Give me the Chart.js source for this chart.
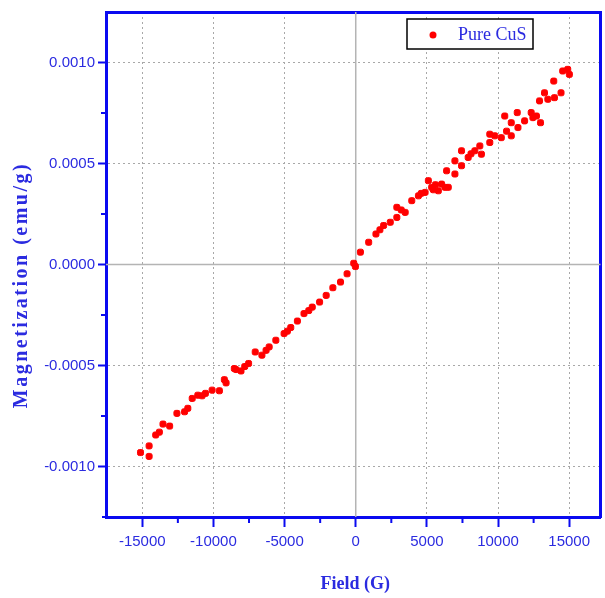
<!DOCTYPE html>
<html>
<head>
<meta charset="utf-8">
<script src="https://cdn.jsdelivr.net/npm/chart.js@4.4.1/dist/chart.umd.min.js"></script>
<style>
  html, body { margin: 0; padding: 0; background: #fff; }
  #wrap { width: 605px; height: 598px; position: relative; }
</style>
</head>
<body>
<div id="wrap"><canvas id="myChart" width="605" height="598"></canvas></div>
<script>
// field (G) and magnetization (emu/g)
var fieldG = [
  -15125, -14520, -14520, -14056, -13545, -13077, -12566, -12028, -11490, -11098,
  -10560, -10093, -9580, -9231, -9112, -8531, -8412, -8063, -7530, -7063,
  -6594, -6084, -5615, -5035, -4567, -4100, -3636, -3056, -2540, -2077,
  -1608, -1070, -608, -140, -21, 329, 909, 1420, 1958, 2427,
  2888, 2888, 3475, 3937, 4406, 4874, 5105, 5336, 5455, 5804,
  6035, 6273, 6385, 6503, 6970, 6970, 7434, 7434, 7902, 8370,
  8720, 8832, 9420, 9420, 9770, 10230, 10470, 10930, 10930, 11350,
  11400, 11866, 12330, 12450, 12915, 12985, 13265, 13500, 13915, 13965,
  14426, 14545, 14895, 15014,
  -13800, -11800, -10800, -7800, -6300, -4800, -3300, 1700, 3200, 4600, 5600, 8100, 10600, 12700
];
var magnet = [
  -0.000931, -0.000950, -0.000898, -0.000844, -0.000790, -0.000800, -0.000737, -0.000729, -0.000663, -0.000647,
  -0.000638, -0.000622, -0.000625, -0.000570, -0.000586, -0.000515, -0.000520, -0.000527, -0.000490, -0.000433,
  -0.000449, -0.000408, -0.000375, -0.000342, -0.000312, -0.000280, -0.000243, -0.000211, -0.000186, -0.000153,
  -0.000115, -0.000087, -0.000046, 0.000006, -0.000010, 0.000061, 0.000110, 0.000151, 0.000193, 0.000209,
  0.000283, 0.000233, 0.000258, 0.000316, 0.000340, 0.000357, 0.000415, 0.000382, 0.000370, 0.000365,
  0.000398, 0.000382, 0.000464, 0.000382, 0.000448, 0.000513, 0.000563, 0.000489, 0.000530, 0.000563,
  0.000587, 0.000546, 0.000645, 0.000604, 0.000637, 0.000628, 0.000735, 0.000702, 0.000637, 0.000752,
  0.000678, 0.000711, 0.000752, 0.000727, 0.000810, 0.000702, 0.000850, 0.000818, 0.000908, 0.000826,
  0.000850, 0.000958, 0.000966, 0.000941,
  -0.000830, -0.000712, -0.000650, -0.000505, -0.000425, -0.000330, -0.000228, 0.000172, 0.000270, 0.000352, 0.000395, 0.000548, 0.000660, 0.000735
];

var xTicks = [-15000, -10000, -5000, 0, 5000, 10000, 15000];
var yTicks = [-0.0010, -0.0005, 0.0000, 0.0005, 0.0010];
var xMinor = [-12500, -7500, -2500, 2500, 7500, 12500];
var yMinor = [-0.00075, -0.00025, 0.00025, 0.00075];

var seriesName = "Pure CuS";
var xTitle = "Field (G)";
var yTitle = "Magnetization (emu/g)";

var blue = "#0a0af0";
var textBlue = "#2b2be0";
var tickFont = { family: "'Liberation Sans', Arial, sans-serif", size: 15 };

var points = [];
for (var i = 0; i < fieldG.length; i++) {
    points.push({ x: fieldG[i], y: magnet[i] });
}

// zero lines, minor ticks, titles and the legend box
var extras = {
    id: "extras",
    beforeDatasetsDraw: function (chart) {
        var ctx = chart.ctx, a = chart.chartArea;
        var sx = chart.scales.x, sy = chart.scales.y;
        ctx.save();
        ctx.strokeStyle = "#b4b4b4";
        ctx.lineWidth = 1.5;
        var px = sx.getPixelForValue(0), py = sy.getPixelForValue(0);
        ctx.beginPath();
        ctx.moveTo(px, a.top); ctx.lineTo(px, a.bottom);
        ctx.moveTo(a.left, py); ctx.lineTo(a.right, py);
        ctx.stroke();
        ctx.restore();
    },
    afterDraw: function (chart) {
        var ctx = chart.ctx, a = chart.chartArea;
        var sx = chart.scales.x, sy = chart.scales.y;
        ctx.save();
        // minor ticks
        ctx.strokeStyle = blue;
        ctx.lineWidth = 2;
        ctx.beginPath();
        xMinor.forEach(function (v) {
            var p = sx.getPixelForValue(v);
            ctx.moveTo(p, a.bottom); ctx.lineTo(p, a.bottom + 6);
        });
        yMinor.forEach(function (v) {
            var p = sy.getPixelForValue(v);
            ctx.moveTo(a.left, p); ctx.lineTo(a.left - 5, p);
        });
        // x axis line runs a little past the left axis
        ctx.moveTo(a.left - 4, a.bottom); ctx.lineTo(a.left, a.bottom);
        ctx.stroke();

        // axis titles
        ctx.fillStyle = textBlue;
        ctx.font = "bold 18px 'Liberation Serif', 'Times New Roman', serif";
        ctx.textAlign = "center";
        ctx.textBaseline = "middle";
        ctx.fillText(xTitle, (a.left + a.right) / 2 + 2, 584);
        ctx.save();
        ctx.translate(22, 285);
        ctx.rotate(-Math.PI / 2);
        ctx.font = "bold 20px 'Liberation Serif', 'Times New Roman', serif";
        ctx.letterSpacing = "2.5px";
        ctx.fillText(yTitle, 0, 0);
        ctx.restore();

        // legend
        ctx.fillStyle = "#fff";
        ctx.fillRect(407, 19, 126, 30);
        ctx.strokeStyle = "#000";
        ctx.lineWidth = 1.5;
        ctx.strokeRect(407, 19, 126, 30);
        ctx.fillStyle = "#ff0000";
        ctx.beginPath();
        ctx.arc(433, 35, 3.5, 0, Math.PI * 2);
        ctx.fill();
        ctx.fillStyle = textBlue;
        ctx.font = "18px 'Liberation Serif', 'Times New Roman', serif";
        ctx.textAlign = "left";
        ctx.fillText(seriesName, 458, 35);
        ctx.restore();
    }
};

var config = {
    type: "scatter",
    data: {
        datasets: [{
            label: seriesName,
            data: points,
            backgroundColor: "#ff0000",
            borderColor: "#ff0000",
            pointStyle: "rectRounded",
            pointRadius: 3.5,
            pointHoverRadius: 3.5
        }]
    },
    options: {
        responsive: false,
        animation: false,
        layout: { padding: 0 },
        plugins: {
            legend: { display: false },
            tooltip: { enabled: false }
        },
        scales: {
            x: {
                type: "linear",
                position: "bottom",
                min: -17550,
                max: 17200,
                afterBuildTicks: function (scale) {
                    scale.ticks = xTicks.map(function (v) { return { value: v }; });
                },
                afterFit: function (scale) { scale.height = 81; },
                ticks: {
                    color: textBlue,
                    font: tickFont,
                    padding: 6,
                    maxRotation: 0,
                    callback: function (v) { return String(v); }
                },
                grid: {
                    color: function (c) { return c.tick && c.tick.value === 0 ? "rgba(0,0,0,0)" : "#a8a8a8"; },
                    lineWidth: 1,
                    tickColor: blue,
                    tickWidth: 2,
                    tickLength: 10
                },
                border: { color: blue, width: 3, dash: [2, 3] }
            },
            x2: {
                type: "linear",
                position: "top",
                min: -17550,
                max: 17200,
                afterFit: function (scale) { scale.height = 12; },
                ticks: { display: false },
                grid: { display: false },
                border: { color: blue, width: 3 }
            },
            y: {
                type: "linear",
                position: "left",
                min: -0.00125,
                max: 0.00125,
                afterBuildTicks: function (scale) {
                    scale.ticks = yTicks.map(function (v) { return { value: v }; });
                },
                afterFit: function (scale) { scale.width = 106; },
                ticks: {
                    color: textBlue,
                    font: tickFont,
                    padding: 3,
                    callback: function (v) { return v.toFixed(4); }
                },
                grid: {
                    color: function (c) { return c.tick && Math.abs(c.tick.value) < 1e-9 ? "rgba(0,0,0,0)" : "#a8a8a8"; },
                    lineWidth: 1,
                    tickColor: blue,
                    tickWidth: 2,
                    tickLength: 8
                },
                border: { color: blue, width: 3, dash: [2, 3] }
            },
            y2: {
                type: "linear",
                position: "right",
                min: -0.00125,
                max: 0.00125,
                afterFit: function (scale) { scale.width = 2; },
                ticks: { display: false },
                grid: { display: false },
                border: { color: blue, width: 3 }
            }
        }
    },
    plugins: [extras]
};

var myChart = new Chart(document.getElementById("myChart").getContext("2d"), config);
</script>
</body>
</html>
